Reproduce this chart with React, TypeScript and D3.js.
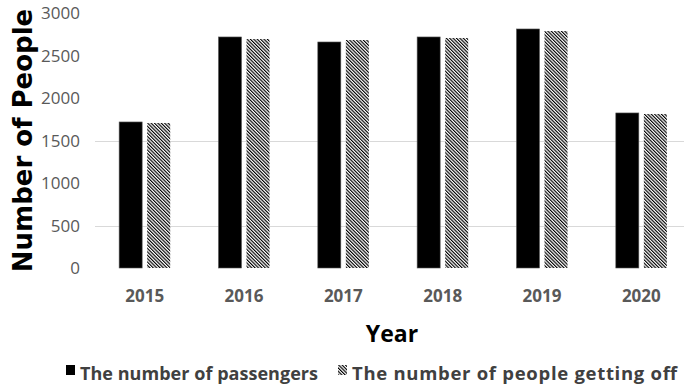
import React from "react";
import * as d3 from "d3";

const years = ["2015", "2016", "2017", "2018", "2019", "2020"];
const seriesNames = ["The number of passengers", "The number of people getting off"];
const passengers = [1718, 2718, 2659, 2718, 2812, 1824];
const gettingOff = [1706, 2694, 2682, 2706, 2788, 1812];
const yTicks = [0, 500, 1000, 1500, 2000, 2500, 3000];
const visibleGrid = [500, 1500];

const W = 684;
const H = 389;

export default function App() {
  const x = d3.scaleBand<string>().domain(years).range([95, 691]).paddingInner(0.486).paddingOuter(0.243);
  const xs = d3.scaleBand<string>().domain(["p", "g"]).range([0, x.bandwidth()]).paddingInner(0.1786).paddingOuter(0);
  const y = d3.scaleLinear().domain([0, 3000]).range([268, 13]);
  const sans = "'Open Sans', 'Noto Sans', sans-serif";

  return (
    <svg width={W} height={H} style={{ position: "absolute", left: 0, top: 0, background: "#fff" }}>
      <defs>
        <pattern id="hatch" width="2.4" height="2.4" patternUnits="userSpaceOnUse" patternTransform="rotate(-45)">
          <rect width="2.4" height="2.4" fill="#ffffff" />
          <rect x="0" y="0" width="1.15" height="2.4" fill="#000000" />
        </pattern>
      </defs>
      {visibleGrid.map((v) => (
        <line key={v} x1={95} x2={W} y1={Math.round(y(v)) + 0.5} y2={Math.round(y(v)) + 0.5} stroke="#d9d9d9" strokeWidth={1} />
      ))}
      {yTicks.map((v) => (
        <text key={v} x={80} y={y(v) + 6} textAnchor="end" fontFamily={sans} fontSize={17} fill="#595959">
          {v}
        </text>
      ))}
      {years.map((yr, i) => (
        <g key={yr}>
          <rect
            x={(x(yr) ?? 0) + (xs("p") ?? 0)}
            y={y(passengers[i])}
            width={xs.bandwidth()}
            height={y(0) - y(passengers[i])}
            fill="#000"
            stroke="#595959"
            strokeWidth={0.6}
          />
          <rect
            x={(x(yr) ?? 0) + (xs("g") ?? 0)}
            y={y(gettingOff[i])}
            width={xs.bandwidth()}
            height={y(0) - y(gettingOff[i])}
            fill="url(#hatch)"
          />
          <text
            x={(x(yr) ?? 0) + x.bandwidth() / 2}
            y={302}
            textAnchor="middle"
            fontFamily={sans}
            fontWeight="bold"
            fontSize={17}
            fill="#595959"
          >
            {yr}
          </text>
        </g>
      ))}
      <text
        transform={`translate(32,140.5) rotate(-90)`}
        textAnchor="middle"
        fontFamily="'DejaVu Sans', sans-serif"
        fontWeight="bold"
        fontSize={26}
        fill="#000"
      >
        Number of People
      </text>
      <text x={392} y={342} textAnchor="middle" fontFamily={sans} fontWeight="bold" fontSize={23} fill="#000">
        Year
      </text>
      <rect x={66} y={365} width={9} height={10} fill="#000" />
      <text x={80} y={380} fontFamily={sans} fontWeight="bold" fontSize={18} fill="#404040" textLength={238} lengthAdjust="spacing">
        {seriesNames[0]}
      </text>
      <rect x={338} y={365} width={9} height={10} fill="url(#hatch)" />
      <text x={352} y={380} fontFamily={sans} fontWeight="bold" fontSize={18.5} fill="#404040" textLength={325} lengthAdjust="spacing">
        {seriesNames[1]}
      </text>
    </svg>
  );
}
